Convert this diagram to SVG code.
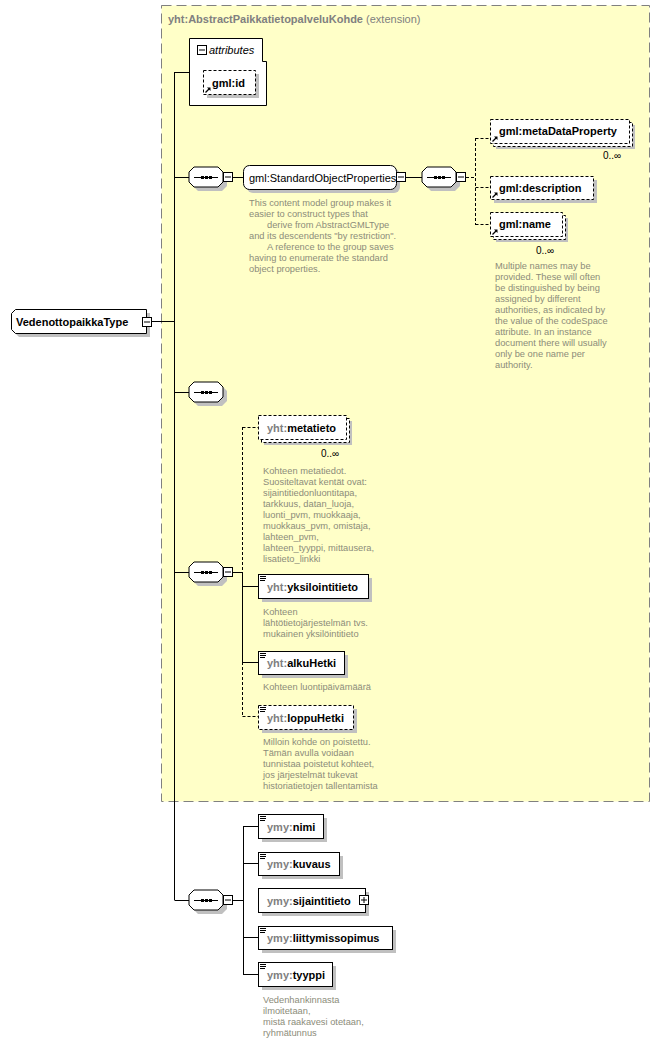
<svg xmlns="http://www.w3.org/2000/svg" xmlns:xlink="http://www.w3.org/1999/xlink" width="660" height="1042" viewBox="0 0 660 1042">
<style>
.box{fill:#fff;stroke:#000;stroke-width:1}
.dbox{fill:#fff;stroke:#000;stroke-width:1;stroke-dasharray:3,2}
.sh{fill:#c0c0c0;stroke:none}
.ln{stroke:#000;stroke-width:1;fill:none}
.dl{stroke:#000;stroke-width:1;fill:none;stroke-dasharray:3,2}
.nm{font-family:"Liberation Sans",Arial,sans-serif;font-size:11px;font-weight:bold;fill:#000}
.px{fill:#808080}
.gr{font-family:"Liberation Sans",Arial,sans-serif;font-size:11px;fill:#000}
.ds{font-family:"Liberation Sans",Arial,sans-serif;font-size:9.3px;fill:#8c8c7a}
.oc{font-family:"Liberation Sans",Arial,sans-serif;font-size:10px;fill:#000}
.ttl{font-family:"Liberation Sans",Arial,sans-serif;font-size:11px;fill:#808080}
</style>
<defs>
<g id="seq">
<polygon class="sh" points="9,4 33,4 38,9 38,19 33,24 9,24 4,19 4,9"/>
<polygon class="box" points="5,0 29,0 34,5 34,15 29,20 5,20 0,15 0,5"/>
<line x1="5" y1="10.5" x2="29" y2="10.5" stroke="#000"/>
<rect x="12" y="9" width="3" height="3" fill="#000"/>
<rect x="16" y="9" width="3" height="3" fill="#000"/>
<rect x="20" y="9" width="3" height="3" fill="#000"/>
</g>
<g id="minus">
<rect x="0.5" y="0.5" width="9" height="9" fill="#fff" stroke="#000"/>
<line x1="2" y1="5" x2="8" y2="5" stroke="#000"/>
</g>
<g id="ico">
<path d="M2 2.5h6M2 4.5h6M2 6.5h5" stroke="#000" stroke-width="1"/>
</g>
<g id="ref">
<path d="M1.5 7.5L5.5 3.5" stroke="#000" stroke-width="1.3"/>
<polygon points="3,2.5 6.5,2.5 6.5,6" fill="#000"/>
</g>
</defs>

<rect x="161.5" y="5.5" width="488" height="796" fill="#ffffc8" stroke="#808080" stroke-dasharray="10,5"/>
<text class="ttl" x="168" y="23"><tspan font-weight="bold">yht:AbstractPaikkatietopalveluKohde</tspan> (extension)</text>

<g id="connectors">
<line class="ln" x1="174.5" y1="72" x2="174.5" y2="900"/>
<line class="ln" x1="152" y1="321.5" x2="174.5" y2="321.5"/>
<line class="ln" x1="174.5" y1="72.5" x2="189" y2="72.5"/>
<line class="ln" x1="174.5" y1="177.5" x2="189" y2="177.5"/>
<line class="ln" x1="233" y1="177.5" x2="243" y2="177.5"/>
<line class="ln" x1="406" y1="177.5" x2="422" y2="177.5"/>
<line class="dl" x1="466" y1="177.5" x2="475.5" y2="177.5"/>
<line class="dl" x1="475.5" y1="138" x2="475.5" y2="225"/>
<line class="dl" x1="475.5" y1="138.5" x2="490" y2="138.5"/>
<line class="dl" x1="475.5" y1="187.5" x2="490" y2="187.5"/>
<line class="dl" x1="475.5" y1="224.5" x2="490" y2="224.5"/>
<line class="ln" x1="174.5" y1="392.5" x2="189" y2="392.5"/>
<line class="ln" x1="174.5" y1="572.5" x2="189" y2="572.5"/>
<line class="ln" x1="233" y1="572.5" x2="242.5" y2="572.5"/>
<line class="dl" x1="242.5" y1="427" x2="242.5" y2="572"/>
<line class="ln" x1="242.5" y1="572" x2="242.5" y2="662"/>
<line class="dl" x1="242.5" y1="662" x2="242.5" y2="716.5"/>
<line class="dl" x1="242.5" y1="427.5" x2="258" y2="427.5"/>
<line class="ln" x1="242.5" y1="586.5" x2="258" y2="586.5"/>
<line class="ln" x1="242.5" y1="662.5" x2="258" y2="662.5"/>
<line class="dl" x1="242.5" y1="716.5" x2="258" y2="716.5"/>
<line class="ln" x1="174.5" y1="900.5" x2="189" y2="900.5"/>
<line class="ln" x1="233" y1="900.5" x2="243.5" y2="900.5"/>
<line class="ln" x1="243.5" y1="826" x2="243.5" y2="975"/>
<line class="ln" x1="243.5" y1="826.5" x2="258" y2="826.5"/>
<line class="ln" x1="243.5" y1="863.5" x2="258" y2="863.5"/>
<line class="ln" x1="243.5" y1="937.5" x2="258" y2="937.5"/>
<line class="ln" x1="243.5" y1="974.5" x2="258" y2="974.5"/>
</g>

<g id="root">
<polygon class="sh" points="19,313 150,313 150,337 19,337 15,333 15,317"/>
<polygon class="box" points="15.5,309.5 146.5,309.5 146.5,333.5 15.5,333.5 11.5,329.5 11.5,313.5"/>
<text class="nm" x="16" y="326" font-size="11.5">VedenottopaikkaType</text>
<use xlink:href="#minus" x="142" y="317"/>
</g>

<g id="attributes">
<polygon class="box" points="189.5,38.5 262.5,38.5 262.5,61.5 266.5,61.5 266.5,105.5 189.5,105.5"/>
<use xlink:href="#minus" x="197" y="45"/>
<text x="209" y="54" font-family="Liberation Sans, Arial, sans-serif" font-size="11" font-style="italic">attributes</text>
</g>
<g id="gml-id">
<rect class="sh" x="207" y="74" width="52" height="24"/>
<rect class="dbox" x="203.5" y="70.5" width="52" height="24"/>
<use xlink:href="#ref" x="204" y="85"/>
<text class="nm" x="212" y="87">gml:id</text>
</g>

<g id="seq1">
<use xlink:href="#seq" x="189" y="167"/>
<use xlink:href="#minus" x="223" y="172"/>
</g>

<g id="StandardObjectProperties">
<rect class="sh" x="247" y="169" width="153" height="24" rx="6"/>
<rect class="box" x="243.5" y="165.5" width="153" height="24" rx="6"/>
<text class="gr" x="249" y="182">gml:StandardObjectProperties</text>
<use xlink:href="#minus" x="396" y="172"/>
<text class="ds"><tspan x="249" y="206">This content model group makes it</tspan><tspan x="249" y="217">easier to construct types that</tspan><tspan x="267" y="228">derive from AbstractGMLType</tspan><tspan x="249" y="239">and its descendents "by restriction".</tspan><tspan x="267" y="250">A reference to the group saves</tspan><tspan x="249" y="261">having to enumerate the standard</tspan><tspan x="249" y="272">object properties.</tspan></text>
</g>

<g id="seq2">
<use xlink:href="#seq" x="422" y="167"/>
<use xlink:href="#minus" x="456" y="172"/>
</g>

<g id="gml-metaDataProperty">
<rect class="sh" x="496" y="125" width="139" height="24"/>
<rect class="dbox" x="493.5" y="122.5" width="139" height="24"/>
<rect class="dbox" x="490.5" y="119.5" width="139" height="24"/>
<use xlink:href="#ref" x="491" y="134"/>
<text class="nm" x="499" y="135">gml:metaDataProperty</text>
<text class="oc" x="603" y="159">0..∞</text>
</g>

<g id="gml-description">
<rect class="sh" x="494" y="180" width="103" height="23"/>
<rect class="dbox" x="490.5" y="176.5" width="103" height="23"/>
<use xlink:href="#ref" x="491" y="190"/>
<text class="nm" x="499" y="192">gml:description</text>
</g>

<g id="gml-name">
<rect class="sh" x="496" y="218" width="72" height="24"/>
<rect class="dbox" x="493.5" y="215.5" width="72" height="24"/>
<rect class="dbox" x="490.5" y="212.5" width="72" height="24"/>
<use xlink:href="#ref" x="491" y="227"/>
<text class="nm" x="499" y="228">gml:name</text>
<text class="oc" x="536" y="254">0..∞</text>
<text class="ds"><tspan x="495" y="269">Multiple names may be</tspan><tspan x="495" y="280">provided.  These will often</tspan><tspan x="495" y="291">be distinguished by being</tspan><tspan x="495" y="302">assigned by different</tspan><tspan x="495" y="313">authorities, as indicated by</tspan><tspan x="495" y="324">the value of the codeSpace</tspan><tspan x="495" y="335">attribute.  In an instance</tspan><tspan x="495" y="346">document there will usually</tspan><tspan x="495" y="357">only be one name per</tspan><tspan x="495" y="368">authority.</tspan></text>
</g>

<g id="seq3">
<use xlink:href="#seq" x="189" y="382"/>
</g>

<g id="seq4">
<use xlink:href="#seq" x="189" y="562"/>
<use xlink:href="#minus" x="223" y="567"/>
</g>

<g id="yht-metatieto">
<rect class="sh" x="264" y="421" width="88" height="24"/>
<rect class="dbox" x="261.5" y="418.5" width="88" height="24"/>
<rect class="dbox" x="258.5" y="415.5" width="88" height="24"/>
<text class="nm" x="267" y="432"><tspan class="px">yht:</tspan>metatieto</text>
<text class="oc" x="321" y="457">0..∞</text>
<text class="ds"><tspan x="263" y="474">Kohteen metatiedot.</tspan><tspan x="263" y="485">Suositeltavat kentät ovat:</tspan><tspan x="263" y="496">sijaintitiedonluontitapa,</tspan><tspan x="263" y="507">tarkkuus, datan_luoja,</tspan><tspan x="263" y="518">luonti_pvm, muokkaaja,</tspan><tspan x="263" y="529">muokkaus_pvm, omistaja,</tspan><tspan x="263" y="540">lahteen_pvm,</tspan><tspan x="263" y="551">lahteen_tyyppi, mittausera,</tspan><tspan x="263" y="562">lisatieto_linkki</tspan></text>
</g>

<g id="yht-yksilointitieto">
<rect class="sh" x="262" y="578" width="110" height="24"/>
<rect class="box" x="258.5" y="574.5" width="110" height="24"/>
<use xlink:href="#ico" x="258" y="574"/>
<text class="nm" x="267" y="591"><tspan class="px">yht:</tspan>yksilointitieto</text>
<text class="ds"><tspan x="263" y="615">Kohteen</tspan><tspan x="263" y="626">lähtötietojärjestelmän  tvs.</tspan><tspan x="263" y="637">mukainen yksilöintitieto</tspan></text>
</g>

<g id="yht-alkuHetki">
<rect class="sh" x="262" y="655" width="86" height="23"/>
<rect class="box" x="258.5" y="651.5" width="86" height="23"/>
<use xlink:href="#ico" x="258" y="651"/>
<text class="nm" x="267" y="667"><tspan class="px">yht:</tspan>alkuHetki</text>
<text class="ds" x="263" y="690">Kohteen luontipäivämäärä</text>
</g>

<g id="yht-loppuHetki">
<rect class="sh" x="262" y="709" width="95" height="24"/>
<rect class="dbox" x="258.5" y="705.5" width="95" height="24"/>
<use xlink:href="#ico" x="258" y="705"/>
<text class="nm" x="267" y="722"><tspan class="px">yht:</tspan>loppuHetki</text>
<text class="ds"><tspan x="263" y="745">Milloin kohde on poistettu.</tspan><tspan x="263" y="756">Tämän avulla voidaan</tspan><tspan x="263" y="767">tunnistaa poistetut kohteet,</tspan><tspan x="263" y="778">jos järjestelmät tukevat</tspan><tspan x="263" y="789">historiatietojen tallentamista</tspan></text>
</g>

<g id="seq5">
<use xlink:href="#seq" x="189" y="890"/>
<use xlink:href="#minus" x="223" y="895"/>
</g>

<g id="ymy-nimi">
<rect class="sh" x="262" y="818" width="65" height="24"/>
<rect class="box" x="258.5" y="814.5" width="65" height="24"/>
<use xlink:href="#ico" x="258" y="814"/>
<text class="nm" x="267" y="831"><tspan class="px">ymy:</tspan>nimi</text>
</g>

<g id="ymy-kuvaus">
<rect class="sh" x="262" y="856" width="81" height="23"/>
<rect class="box" x="258.5" y="852.5" width="81" height="23"/>
<use xlink:href="#ico" x="258" y="852"/>
<text class="nm" x="267" y="868"><tspan class="px">ymy:</tspan>kuvaus</text>
</g>

<g id="ymy-sijaintitieto">
<rect class="sh" x="262" y="892" width="107" height="24"/>
<rect class="box" x="258.5" y="888.5" width="107" height="24"/>
<text class="nm" x="267" y="905"><tspan class="px">ymy:</tspan>sijaintitieto</text>
<rect x="359.5" y="895.5" width="9" height="9" fill="#fff" stroke="#000"/>
<path d="M361 900h6M364 897v6" stroke="#000"/>
</g>

<g id="ymy-liittymissopimus">
<rect class="sh" x="262" y="930" width="134" height="23"/>
<rect class="box" x="258.5" y="926.5" width="134" height="23"/>
<use xlink:href="#ico" x="258" y="926"/>
<text class="nm" x="267" y="942"><tspan class="px">ymy:</tspan>liittymissopimus</text>
</g>

<g id="ymy-tyyppi">
<rect class="sh" x="262" y="966" width="74" height="24"/>
<rect class="box" x="258.5" y="962.5" width="74" height="24"/>
<use xlink:href="#ico" x="258" y="962"/>
<text class="nm" x="267" y="979"><tspan class="px">ymy:</tspan>tyyppi</text>
<text class="ds"><tspan x="263" y="1003">Vedenhankinnasta</tspan><tspan x="263" y="1014">ilmoitetaan,</tspan><tspan x="263" y="1025">mistä raakavesi otetaan,</tspan><tspan x="263" y="1036">ryhmätunnus</tspan></text>
</g>
</svg>
